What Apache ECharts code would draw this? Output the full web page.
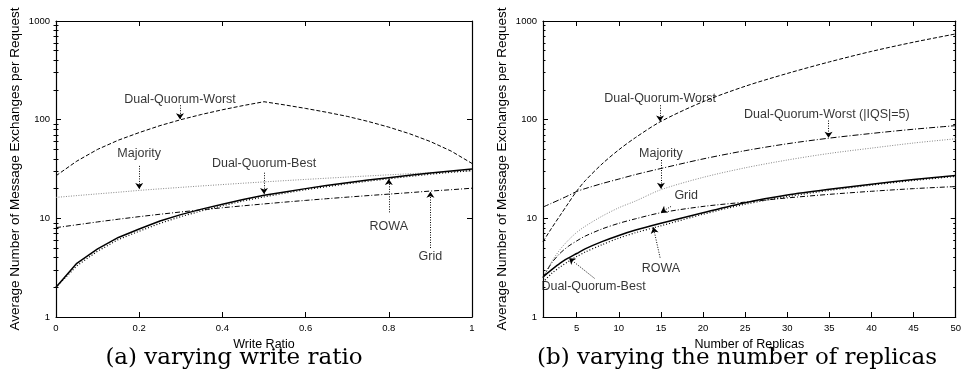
<!DOCTYPE html>
<html><head><meta charset="utf-8">
<script src="https://cdn.jsdelivr.net/npm/echarts@6/dist/echarts.min.js"></script>
<style>html,body{margin:0;padding:0;background:#fff}#c{width:964px;height:373px}</style>
</head><body><div id="c"></div>
<script>
// ---- (a) varying write ratio ----
const writeRatio   = [0,0.05,0.1,0.15,0.2,0.25,0.3,0.35,0.4,0.45,0.5,0.55,0.6,0.65,0.7,0.75,0.8,0.85,0.9,0.95,1];
const aWorst       = [27,38,50,62,74,87,100,113,126,139,152,141,130,119,108,96,84,72,60,48,36];
const aMajority    = [16.3,17.0,17.7,18.4,19.2,19.9,20.6,21.3,22.0,22.7,23.4,24.1,24.8,25.5,26.2,26.9,27.6,28.3,29.0,29.7,30.3];
const aBest        = [2.0,3.5,4.9,6.4,7.8,9.4,10.9,12.4,13.9,15.5,17.1,18.5,20.0,21.5,23.0,24.4,25.8,27.3,28.8,30.2,31.6];
const aRowa        = [2.0,3.3,4.65,6.1,7.4,8.9,10.4,11.9,13.4,15.0,16.5,18.0,19.5,20.9,22.4,23.8,25.2,26.6,28.0,29.3,30.5];
const aGrid        = [8.05,8.6,9.2,9.8,10.4,11.0,11.6,12.2,12.8,13.4,14.0,14.6,15.2,15.8,16.4,17.0,17.6,18.2,18.9,19.5,20.2];

// ---- (b) varying the number of replicas ----
const replicas     = [1,2,3,4,5,6,8,10,12,15,20,25,30,35,40,45,50];
const bWorst       = [5.8,7.9,10.6,14.2,18.9,24,35.5,49.5,66,96,152,218,294,385,492,610,740];
const bWorstIQS5   = [13,14.2,15.5,17,18.7,20,22.5,25,27.8,32,40,48.5,57,65,72.5,80,87];
const bMajority    = [2.5,3.6,4.8,6.0,7.2,8.3,10.5,12.8,15,19.5,26,32.5,39,45.5,51.5,58,64];
const bGrid        = [2.5,3.5,4.4,5.2,5.9,6.6,7.8,8.9,9.9,11.4,13.2,14.6,16.1,17.5,18.8,20,21];
const bBest        = [2.55,3.0,3.5,3.95,4.4,4.9,5.8,6.7,7.6,8.9,11.4,14.4,17.2,19.7,22.2,24.7,27.1];
const bRowa        = [2.25,2.75,3.2,3.65,4.1,4.55,5.4,6.3,7.15,8.4,11.0,13.9,16.6,19.2,21.7,24.2,26.6];

// ---- ticks ----
const aXTicks = [0,0.2,0.4,0.6,0.8,1];
const bXTicks = [5,10,15,20,25,30,35,40,45,50];
const yMajorTicks = [1,10,100,1000];
const yMinorTicks = [2,3,4,5,6,7,8,9,20,30,40,50,60,70,80,90,200,300,400,500,600,700,800,900];

const FONT = 'Liberation Sans';
const chart = echarts.init(document.getElementById('c'), null, {renderer:'canvas'});

const grids = [
  {left:56, right:492, top:21, bottom:56},
  {left:543, right:5, top:21, bottom:56}
];

const yName = 'Average Number of Message Exchanges per Request';
const xAxes = [], yAxes = [];
function buildAxes(g, xmin, xmax, xticks, xname) {
  const axisLine = {show:true, onZero:false, lineStyle:{color:'#000', width:1.2}};
  xAxes.push({type:'value', gridIndex:g, position:'bottom', min:xmin, max:xmax,
    axisLine, splitLine:{show:false},
    axisTick:{show:true, inside:true, length:5, lineStyle:{color:'#000'}, customValues:xticks},
    axisLabel:{show:true, color:'#000', fontSize:9.5, fontFamily:FONT, margin:6, customValues:xticks,
      formatter: v => String(v)},
    name:xname, nameLocation:'middle', nameGap:12,
    nameTextStyle:{color:'#000', fontSize:12.5, fontFamily:FONT}});
  xAxes.push({type:'value', gridIndex:g, position:'top', min:xmin, max:xmax,
    axisLine, splitLine:{show:false},
    axisTick:{show:true, inside:true, length:5, lineStyle:{color:'#000'}, customValues:xticks},
    axisLabel:{show:false}});
  const lmin = 0, lmax = 3;
  const logMajor = yMajorTicks.map(v => Math.log10(v));
  const logMinor = yMinorTicks.map(v => Math.log10(v));
  yAxes.push({type:'log', logBase:10, gridIndex:g, position:'left', min:1, max:1000,
    axisLine, splitLine:{show:false}, minorTick:{show:false},
    axisTick:{show:true, inside:true, length:5, lineStyle:{color:'#000'}},
    axisLabel:{show:true, color:'#000', fontSize:9.5, fontFamily:FONT, margin:6,
      formatter: v => String(Math.round(v))},
    name:yName, nameLocation:'middle', nameGap:34,
    nameTextStyle:{color:'#000', fontSize:13.5, fontFamily:FONT}});
  yAxes.push({type:'value', gridIndex:g, position:'left', min:lmin, max:lmax,
    axisLine:{show:false}, splitLine:{show:false},
    axisTick:{show:true, inside:true, length:2.5, lineStyle:{color:'#000'}, customValues:logMinor},
    axisLabel:{show:false}});
  yAxes.push({type:'value', gridIndex:g, position:'right', min:lmin, max:lmax,
    axisLine, splitLine:{show:false},
    axisTick:{show:true, inside:true, length:5, lineStyle:{color:'#000'}, customValues:logMajor},
    axisLabel:{show:false}});
  yAxes.push({type:'value', gridIndex:g, position:'right', min:lmin, max:lmax,
    axisLine:{show:false}, splitLine:{show:false},
    axisTick:{show:true, inside:true, length:2.5, lineStyle:{color:'#000'}, customValues:logMinor},
    axisLabel:{show:false}});
}
buildAxes(0, 0, 1, aXTicks, 'Write Ratio');
buildAxes(1, 1, 50, bXTicks, 'Number of Replicas');

const STY = {
  best:  {color:'#000', width:1.5, type:'solid'},
  rowa:  {color:'#000', width:1.2, type:[1,2]},
  maj:   {color:'#888', width:1, type:[1,1.5]},
  worst: {color:'#000', width:1, type:[4,2]},
  grid:  {color:'#000', width:1, type:[5,2,1,2]},
  iqs:   {color:'#000', width:1, type:[6,2,1,2]}
};
function line(name, xs, ys, g, style, smooth) {
  return {type:'line', name, xAxisIndex:g*2, yAxisIndex:g*4,
    data: xs.map((x,i)=>[x, ys[i]]), symbol:'none', showSymbol:false,
    smooth: smooth, lineStyle:style, silent:true, z:3};
}
function arrows(g, list) {
  return {type:'lines', coordinateSystem:'cartesian2d', xAxisIndex:g*2, yAxisIndex:g*4,
    data: list.map(c => ({coords:c})), symbol:['none','arrow'], symbolSize:6,
    lineStyle:{color:'#000', width:1, type:[1,1.5], opacity:1}, silent:true, z:4};
}
function labels(g, list) {
  return {type:'scatter', xAxisIndex:g*2, yAxisIndex:g*4, symbolSize:0, silent:true, clip:false, z:5,
    data: list.map(l => ({name:l[0], value:[l[1], l[2]]})),
    label:{show:true, position:'inside', formatter:'{b}', color:'#000', fontSize:12.5, fontFamily:FONT}};
}

const series = [
  line('Dual-Quorum-Worst', writeRatio, aWorst, 0, STY.worst, false),
  line('Majority', writeRatio, aMajority, 0, STY.maj, false),
  line('Grid', writeRatio, aGrid, 0, STY.grid, false),
  line('ROWA', writeRatio, aRowa, 0, STY.rowa, false),
  line('Dual-Quorum-Best', writeRatio, aBest, 0, STY.best, false),
  arrows(0, [
    [[0.298,140],[0.298,101]],
    [[0.2,34],[0.2,19.8]],
    [[0.5,29],[0.5,17.6]],
    [[0.8,11.5],[0.8,25.0]],
    [[0.9,5.0],[0.9,18.6]]
  ]),
  labels(0, [
    ['Dual-Quorum-Worst',0.298,161],
    ['Majority',0.2,45],
    ['Dual-Quorum-Best',0.5,35.6],
    ['ROWA',0.8,8.24],
    ['Grid',0.9,4.09]
  ]),
  line('Dual-Quorum-Worst', replicas, bWorst, 1, STY.worst, 0.3),
  line('Dual-Quorum-Worst (|IQS|=5)', replicas, bWorstIQS5, 1, STY.iqs, 0.3),
  line('Majority', replicas, bMajority, 1, STY.maj, 0.3),
  line('Grid', replicas, bGrid, 1, STY.grid, 0.3),
  line('ROWA', replicas, bRowa, 1, STY.rowa, 0.3),
  line('Dual-Quorum-Best', replicas, bBest, 1, STY.best, 0.3),
  arrows(1, [
    [[14.9,140],[14.9,96]],
    [[34.9,98],[34.9,65.5]],
    [[15,39],[15,20]],
    [[16.2,13.2],[15.0,11.5]],
    [[14.9,4.0],[14.1,8.1]],
    [[7.1,2.47],[4.1,3.95]]
  ]),
  labels(1, [
    ['Dual-Quorum-Worst',14.9,162],
    ['Dual-Quorum-Worst (|IQS|=5)',34.7,114],
    ['Majority',15,45.7],
    ['Grid',18,16.9],
    ['ROWA',15,3.12],
    ['Dual-Quorum-Best',7,2.03]
  ])
];

chart.setOption({
  animation:false,
  backgroundColor:'#fff',
  grid: grids,
  xAxis: xAxes,
  yAxis: yAxes,
  series: series,
  graphic: [
    {type:'text', x:234, y:358, style:{text:'(a) varying write ratio', fill:'#000', fontSize:23, fontFamily:'DejaVu Serif', align:'center', verticalAlign:'middle'}},
    {type:'text', x:737, y:358, style:{text:'(b) varying the number of replicas', fill:'#000', fontSize:23, fontFamily:'DejaVu Serif', align:'center', verticalAlign:'middle'}}
  ]
});
</script>
</body></html>
